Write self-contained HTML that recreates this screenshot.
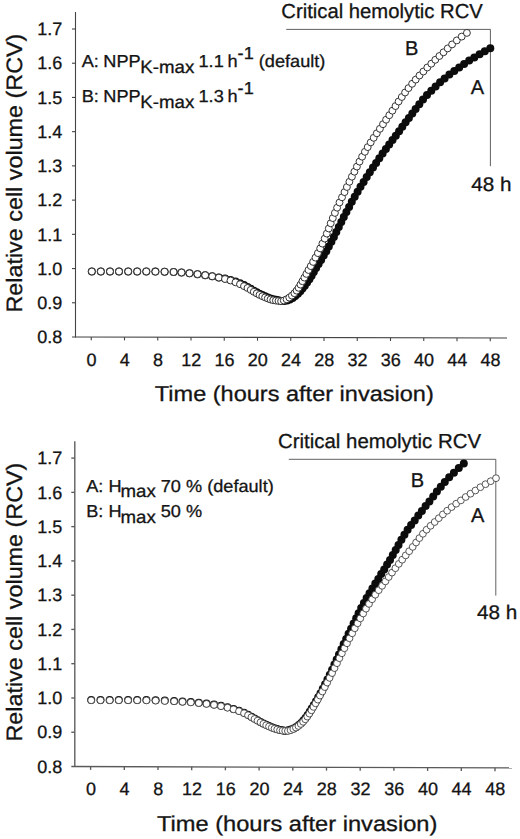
<!DOCTYPE html>
<html><head><meta charset="utf-8"><title>Relative cell volume</title>
<style>
html,body{margin:0;padding:0;background:#fff}
body{width:520px;height:839px;overflow:hidden}
svg{display:block}
text{font-family:"Liberation Sans",Arial,Helvetica,sans-serif;fill:#141414;stroke:#141414;stroke-width:0.3px;text-rendering:geometricPrecision}
.tl text{font-size:18px}
.p1 .o{fill:#fff;stroke:#2a2a2a;stroke-width:0.95px}
.p1 .f{fill:#0c0c0c}
.p2 .o{fill:#fff;stroke:#3a3a3a;stroke-width:0.85px}
.p2 .f{fill:#0c0c0c}
</style></head><body>
<svg width="520" height="839" viewBox="0 0 520 839">
<rect width="520" height="839" fill="#fff"/>
<g stroke="#444" stroke-width="1.1" fill="none"><line x1="75.50" y1="12.00" x2="75.50" y2="337.50"/><line x1="72.00" y1="337.00" x2="507.00" y2="338.00"/><line x1="72.00" y1="29.00" x2="75.50" y2="29.00"/><line x1="72.00" y1="63.22" x2="75.50" y2="63.22"/><line x1="72.00" y1="97.44" x2="75.50" y2="97.44"/><line x1="72.00" y1="131.67" x2="75.50" y2="131.67"/><line x1="72.00" y1="165.89" x2="75.50" y2="165.89"/><line x1="72.00" y1="200.11" x2="75.50" y2="200.11"/><line x1="72.00" y1="234.33" x2="75.50" y2="234.33"/><line x1="72.00" y1="268.56" x2="75.50" y2="268.56"/><line x1="72.00" y1="302.78" x2="75.50" y2="302.78"/><line x1="91.25" y1="337.04" x2="91.25" y2="340.34"/><line x1="124.50" y1="337.11" x2="124.50" y2="340.41"/><line x1="157.75" y1="337.19" x2="157.75" y2="340.49"/><line x1="191.00" y1="337.27" x2="191.00" y2="340.57"/><line x1="224.25" y1="337.34" x2="224.25" y2="340.64"/><line x1="257.50" y1="337.42" x2="257.50" y2="340.72"/><line x1="290.75" y1="337.50" x2="290.75" y2="340.80"/><line x1="324.00" y1="337.58" x2="324.00" y2="340.88"/><line x1="357.25" y1="337.65" x2="357.25" y2="340.95"/><line x1="390.50" y1="337.73" x2="390.50" y2="341.03"/><line x1="423.75" y1="337.81" x2="423.75" y2="341.11"/><line x1="457.00" y1="337.88" x2="457.00" y2="341.18"/><line x1="490.25" y1="337.96" x2="490.25" y2="341.26"/></g><g class="tl" text-anchor="end"><text x="62.2" y="35.20">1.7</text><text x="62.2" y="69.42">1.6</text><text x="62.2" y="103.64">1.5</text><text x="62.2" y="137.87">1.4</text><text x="62.2" y="172.09">1.3</text><text x="62.2" y="206.31">1.2</text><text x="62.2" y="240.53">1.1</text><text x="62.2" y="274.76">1.0</text><text x="62.2" y="308.98">0.9</text><text x="62.2" y="343.20">0.8</text></g><g class="tl" text-anchor="middle"><text x="91.55" y="365.60">0</text><text x="124.80" y="365.60">4</text><text x="158.05" y="365.60">8</text><text x="191.30" y="365.60">12</text><text x="224.55" y="365.60">16</text><text x="257.80" y="365.60">20</text><text x="291.05" y="365.60">24</text><text x="324.30" y="365.60">28</text><text x="357.55" y="365.60">32</text><text x="390.80" y="365.60">36</text><text x="424.05" y="365.60">40</text><text x="457.30" y="365.60">44</text><text x="490.55" y="365.60">48</text></g>
<g stroke="#5a5a5a" stroke-width="1.35" fill="none"><line x1="74.80" y1="441.30" x2="74.80" y2="767.00"/><line x1="71.30" y1="766.50" x2="512.00" y2="767.90"/><line x1="71.30" y1="458.10" x2="74.80" y2="458.10"/><line x1="71.30" y1="492.37" x2="74.80" y2="492.37"/><line x1="71.30" y1="526.63" x2="74.80" y2="526.63"/><line x1="71.30" y1="560.90" x2="74.80" y2="560.90"/><line x1="71.30" y1="595.17" x2="74.80" y2="595.17"/><line x1="71.30" y1="629.43" x2="74.80" y2="629.43"/><line x1="71.30" y1="663.70" x2="74.80" y2="663.70"/><line x1="71.30" y1="697.97" x2="74.80" y2="697.97"/><line x1="71.30" y1="732.23" x2="74.80" y2="732.23"/><line x1="90.60" y1="766.55" x2="90.60" y2="769.85"/><line x1="124.30" y1="766.66" x2="124.30" y2="769.96"/><line x1="158.00" y1="766.77" x2="158.00" y2="770.07"/><line x1="191.70" y1="766.87" x2="191.70" y2="770.17"/><line x1="225.40" y1="766.98" x2="225.40" y2="770.28"/><line x1="259.10" y1="767.09" x2="259.10" y2="770.39"/><line x1="292.80" y1="767.20" x2="292.80" y2="770.50"/><line x1="326.50" y1="767.31" x2="326.50" y2="770.61"/><line x1="360.20" y1="767.41" x2="360.20" y2="770.71"/><line x1="393.90" y1="767.52" x2="393.90" y2="770.82"/><line x1="427.60" y1="767.63" x2="427.60" y2="770.93"/><line x1="461.30" y1="767.74" x2="461.30" y2="771.04"/><line x1="495.00" y1="767.85" x2="495.00" y2="771.15"/></g><g class="tl" text-anchor="end"><text x="62.2" y="464.30">1.7</text><text x="62.2" y="498.57">1.6</text><text x="62.2" y="532.83">1.5</text><text x="62.2" y="567.10">1.4</text><text x="62.2" y="601.37">1.3</text><text x="62.2" y="635.63">1.2</text><text x="62.2" y="669.90">1.1</text><text x="62.2" y="704.17">1.0</text><text x="62.2" y="738.43">0.9</text><text x="62.2" y="772.70">0.8</text></g><g class="tl" text-anchor="middle"><text x="90.90" y="795.10">0</text><text x="124.60" y="795.10">4</text><text x="158.30" y="795.10">8</text><text x="192.00" y="795.10">12</text><text x="225.70" y="795.10">16</text><text x="259.40" y="795.10">20</text><text x="293.10" y="795.10">24</text><text x="326.80" y="795.10">28</text><text x="360.50" y="795.10">32</text><text x="394.20" y="795.10">36</text><text x="427.90" y="795.10">40</text><text x="461.60" y="795.10">44</text><text x="495.30" y="795.10">48</text></g>
<g stroke="#444" stroke-width="0.85" fill="none">
<polyline points="286.25,29.4 490.4,29.4 490.4,166.2"/>
<polyline points="288.75,459.3 495.8,459.3 495.8,595.6"/>
</g>
<text class="t" font-size="20.3" x="281.3" y="17.5" textLength="201.5" lengthAdjust="spacingAndGlyphs">Critical hemolytic RCV</text>
<text class="t" font-size="20.3" x="278.0" y="447.5" textLength="203" lengthAdjust="spacingAndGlyphs">Critical hemolytic RCV</text>
<text class="t" font-size="19.8" x="471.2" y="191.2" textLength="40.3" lengthAdjust="spacingAndGlyphs">48 h</text>
<text class="t" font-size="19.8" x="477.0" y="618.7" textLength="40.3" lengthAdjust="spacingAndGlyphs">48 h</text>
<text class="t" font-size="20" x="405.0" y="55.2">B</text>
<text class="t" font-size="20" x="470.8" y="93.6">A</text>
<text class="t" font-size="20" x="410.8" y="487.3">B</text>
<text class="t" font-size="20" x="470.9" y="522.2">A</text>
<text class="t" font-size="21.5" x="154.8" y="401.2" textLength="279" lengthAdjust="spacingAndGlyphs">Time (hours after invasion)</text>
<text class="t" font-size="21.5" x="156.9" y="830.7" textLength="280.5" lengthAdjust="spacingAndGlyphs">Time (hours after invasion)</text>
<text class="t" font-size="22.3" transform="translate(22.2,312.6) rotate(-90)" textLength="279" lengthAdjust="spacingAndGlyphs">Relative cell volume (RCV)</text>
<text class="t" font-size="22.3" transform="translate(21.7,741.6) rotate(-90)" textLength="279" lengthAdjust="spacingAndGlyphs">Relative cell volume (RCV)</text>
<g transform="translate(81.70,67.00) scale(1.050,1)"><text class="t" font-size="17.3" x="0" y="0">A: <tspan dx="-0.5">NPP</tspan><tspan dy="6" dx="-0.3" font-size="17.8">K-max</tspan><tspan dy="-6" dx="-0.8"> 1.1</tspan><tspan dx="-1.2"> h</tspan><tspan dy="-7.6">-1</tspan><tspan dy="7.6"> (default)</tspan></text></g>
<g transform="translate(81.70,101.80) scale(1.050,1)"><text class="t" font-size="17.3" x="0" y="0">B: <tspan dx="-0.5">NPP</tspan><tspan dy="6" dx="-0.3" font-size="17.8">K-max</tspan><tspan dy="-6" dx="-0.8"> 1.3</tspan><tspan dx="-1.2"> h</tspan><tspan dy="-7.6">-1</tspan></text></g>
<g transform="translate(86.20,491.50) scale(1.050,1)"><text class="t" font-size="17.3" x="0" y="0">A: H<tspan dy="5.8" dx="-1" font-size="17.8">max</tspan><tspan dy="-5.8"> 70 % (default)</tspan></text></g>
<g transform="translate(86.20,516.80) scale(1.050,1)"><text class="t" font-size="17.3" x="0" y="0">B: H<tspan dy="5.8" dx="-1" font-size="17.8">max</tspan><tspan dy="-5.8"> 50 %</tspan></text></g>
<g class="p1"><circle class="f" cx="91.8" cy="271.5" r="4"/><circle class="f" cx="100.8" cy="271.5" r="4"/><circle class="f" cx="110.0" cy="271.5" r="4"/><circle class="f" cx="119.0" cy="271.5" r="4"/><circle class="f" cx="128.2" cy="271.5" r="4"/><circle class="f" cx="137.2" cy="271.5" r="4"/><circle class="f" cx="146.3" cy="271.5" r="4"/><circle class="f" cx="155.4" cy="271.6" r="4"/><circle class="f" cx="164.6" cy="271.7" r="4"/><circle class="f" cx="173.6" cy="272.0" r="4"/><circle class="f" cx="181.5" cy="272.5" r="4"/><circle class="f" cx="189.5" cy="273.3" r="4"/><circle class="f" cx="197.5" cy="274.2" r="4"/><circle class="f" cx="205.2" cy="275.2" r="4"/><circle class="f" cx="212.2" cy="276.3" r="4"/><circle class="f" cx="218.8" cy="277.5" r="4"/><circle class="f" cx="225.0" cy="278.6" r="4"/><circle class="f" cx="230.5" cy="279.9" r="4"/><circle class="f" cx="235.5" cy="281.5" r="4"/><circle class="f" cx="240.0" cy="283.3" r="4"/><circle class="f" cx="244.0" cy="285.1" r="4"/><circle class="f" cx="247.5" cy="286.9" r="4"/><circle class="f" cx="250.7" cy="288.8" r="4"/><circle class="f" cx="253.8" cy="290.7" r="4"/><circle class="f" cx="256.7" cy="292.3" r="4"/><circle class="f" cx="259.5" cy="293.8" r="4"/><circle class="f" cx="262.3" cy="295.1" r="4"/><circle class="f" cx="265.1" cy="296.3" r="4"/><circle class="f" cx="267.8" cy="297.4" r="4"/><circle class="f" cx="270.5" cy="298.4" r="4"/><circle class="f" cx="273.2" cy="299.3" r="4"/><circle class="f" cx="275.9" cy="299.8" r="4"/><circle class="f" cx="278.5" cy="300.3" r="4"/><circle class="f" cx="281.1" cy="301.1" r="4"/><circle class="f" cx="284.1" cy="301.1" r="4"/><circle class="f" cx="287.1" cy="300.5" r="4"/><circle class="f" cx="289.9" cy="299.5" r="4"/><circle class="f" cx="292.7" cy="298.0" r="4"/><circle class="f" cx="295.3" cy="296.0" r="4"/><circle class="f" cx="297.9" cy="293.7" r="4"/><circle class="f" cx="300.3" cy="291.2" r="4"/><circle class="f" cx="302.5" cy="288.6" r="4"/><circle class="f" cx="304.8" cy="285.8" r="4"/><circle class="f" cx="307.1" cy="282.6" r="4"/><circle class="f" cx="309.4" cy="279.2" r="4"/><circle class="f" cx="311.6" cy="275.7" r="4"/><circle class="f" cx="313.8" cy="272.0" r="4"/><circle class="f" cx="316.1" cy="268.1" r="4"/><circle class="f" cx="318.6" cy="264.1" r="4"/><circle class="f" cx="321.1" cy="259.9" r="4"/><circle class="f" cx="323.7" cy="255.6" r="4"/><circle class="f" cx="326.3" cy="251.2" r="4"/><circle class="f" cx="328.8" cy="246.5" r="4"/><circle class="f" cx="331.4" cy="241.7" r="4"/><circle class="f" cx="333.9" cy="236.9" r="4"/><circle class="f" cx="336.3" cy="232.0" r="4"/><circle class="f" cx="338.8" cy="227.0" r="4"/><circle class="f" cx="341.3" cy="222.0" r="4"/><circle class="f" cx="343.8" cy="217.0" r="4"/><circle class="f" cx="346.4" cy="211.9" r="4"/><circle class="f" cx="349.1" cy="206.9" r="4"/><circle class="f" cx="351.8" cy="201.8" r="4"/><circle class="f" cx="354.7" cy="196.8" r="4"/><circle class="f" cx="357.6" cy="191.7" r="4"/><circle class="f" cx="360.5" cy="186.8" r="4"/><circle class="f" cx="363.6" cy="181.9" r="4"/><circle class="f" cx="366.7" cy="177.1" r="4"/><circle class="f" cx="369.8" cy="172.3" r="4"/><circle class="f" cx="373.0" cy="167.6" r="4"/><circle class="f" cx="376.1" cy="162.9" r="4"/><circle class="f" cx="379.3" cy="158.2" r="4"/><circle class="f" cx="382.6" cy="153.6" r="4"/><circle class="f" cx="385.9" cy="149.1" r="4"/><circle class="f" cx="389.2" cy="144.6" r="4"/><circle class="f" cx="392.5" cy="140.1" r="4"/><circle class="f" cx="395.8" cy="135.7" r="4"/><circle class="f" cx="399.1" cy="131.2" r="4"/><circle class="f" cx="402.3" cy="126.8" r="4"/><circle class="f" cx="405.6" cy="122.3" r="4"/><circle class="f" cx="408.9" cy="117.9" r="4"/><circle class="f" cx="412.3" cy="113.5" r="4"/><circle class="f" cx="415.6" cy="109.0" r="4"/><circle class="f" cx="419.3" cy="104.3" r="4"/><circle class="f" cx="423.0" cy="99.5" r="4"/><circle class="f" cx="427.0" cy="95.0" r="4"/><circle class="f" cx="431.3" cy="90.7" r="4"/><circle class="f" cx="435.6" cy="86.5" r="4"/><circle class="f" cx="440.1" cy="82.3" r="4"/><circle class="f" cx="444.6" cy="78.4" r="4"/><circle class="f" cx="449.4" cy="74.6" r="4"/><circle class="f" cx="454.3" cy="71.0" r="4"/><circle class="f" cx="459.2" cy="67.4" r="4"/><circle class="f" cx="464.1" cy="63.9" r="4"/><circle class="f" cx="469.2" cy="60.6" r="4"/><circle class="f" cx="474.3" cy="57.4" r="4"/><circle class="f" cx="479.6" cy="54.3" r="4"/><circle class="f" cx="484.8" cy="51.3" r="4"/><circle class="f" cx="490.3" cy="48.3" r="4"/><circle class="o" cx="91.8" cy="271.5" r="3.45"/><circle class="o" cx="100.8" cy="271.5" r="3.45"/><circle class="o" cx="110.0" cy="271.5" r="3.45"/><circle class="o" cx="119.0" cy="271.5" r="3.45"/><circle class="o" cx="128.2" cy="271.5" r="3.45"/><circle class="o" cx="137.2" cy="271.5" r="3.45"/><circle class="o" cx="146.3" cy="271.5" r="3.45"/><circle class="o" cx="155.4" cy="271.6" r="3.45"/><circle class="o" cx="164.6" cy="271.7" r="3.45"/><circle class="o" cx="173.6" cy="272.0" r="3.45"/><circle class="o" cx="181.5" cy="272.5" r="3.45"/><circle class="o" cx="189.5" cy="273.3" r="3.45"/><circle class="o" cx="197.5" cy="274.2" r="3.45"/><circle class="o" cx="205.2" cy="275.2" r="3.45"/><circle class="o" cx="212.2" cy="276.3" r="3.45"/><circle class="o" cx="218.8" cy="277.6" r="3.45"/><circle class="o" cx="225.0" cy="279.0" r="3.45"/><circle class="o" cx="230.5" cy="280.5" r="3.45"/><circle class="o" cx="235.5" cy="282.3" r="3.45"/><circle class="o" cx="240.0" cy="284.2" r="3.45"/><circle class="o" cx="244.0" cy="286.1" r="3.45"/><circle class="o" cx="247.5" cy="288.0" r="3.45"/><circle class="o" cx="250.7" cy="289.9" r="3.45"/><circle class="o" cx="253.8" cy="291.8" r="3.45"/><circle class="o" cx="256.7" cy="293.4" r="3.45"/><circle class="o" cx="259.5" cy="294.9" r="3.45"/><circle class="o" cx="262.3" cy="296.2" r="3.45"/><circle class="o" cx="265.1" cy="297.4" r="3.45"/><circle class="o" cx="267.8" cy="298.5" r="3.45"/><circle class="o" cx="270.5" cy="299.5" r="3.45"/><circle class="o" cx="273.2" cy="300.2" r="3.45"/><circle class="o" cx="275.9" cy="300.6" r="3.45"/><circle class="o" cx="278.5" cy="300.9" r="3.45"/><circle class="o" cx="281.1" cy="301.2" r="3.45"/><circle class="o" cx="283.8" cy="300.5" r="3.45"/><circle class="o" cx="286.6" cy="299.3" r="3.45"/><circle class="o" cx="289.3" cy="297.6" r="3.45"/><circle class="o" cx="291.9" cy="295.6" r="3.45"/><circle class="o" cx="294.4" cy="293.2" r="3.45"/><circle class="o" cx="296.6" cy="290.6" r="3.45"/><circle class="o" cx="298.6" cy="287.8" r="3.45"/><circle class="o" cx="300.5" cy="284.6" r="3.45"/><circle class="o" cx="302.4" cy="281.2" r="3.45"/><circle class="o" cx="304.4" cy="277.6" r="3.45"/><circle class="o" cx="306.4" cy="273.9" r="3.45"/><circle class="o" cx="308.5" cy="270.0" r="3.45"/><circle class="o" cx="310.8" cy="266.1" r="3.45"/><circle class="o" cx="313.1" cy="261.9" r="3.45"/><circle class="o" cx="315.5" cy="257.6" r="3.45"/><circle class="o" cx="317.9" cy="253.1" r="3.45"/><circle class="o" cx="320.2" cy="248.4" r="3.45"/><circle class="o" cx="322.4" cy="243.6" r="3.45"/><circle class="o" cx="324.7" cy="238.6" r="3.45"/><circle class="o" cx="326.8" cy="233.6" r="3.45"/><circle class="o" cx="328.8" cy="228.5" r="3.45"/><circle class="o" cx="330.7" cy="223.3" r="3.45"/><circle class="o" cx="332.8" cy="218.1" r="3.45"/><circle class="o" cx="334.9" cy="212.9" r="3.45"/><circle class="o" cx="337.1" cy="207.7" r="3.45"/><circle class="o" cx="339.5" cy="202.5" r="3.45"/><circle class="o" cx="342.0" cy="197.3" r="3.45"/><circle class="o" cx="344.5" cy="192.1" r="3.45"/><circle class="o" cx="346.9" cy="187.0" r="3.45"/><circle class="o" cx="349.4" cy="181.8" r="3.45"/><circle class="o" cx="351.9" cy="176.7" r="3.45"/><circle class="o" cx="354.4" cy="171.7" r="3.45"/><circle class="o" cx="356.9" cy="166.6" r="3.45"/><circle class="o" cx="359.5" cy="161.6" r="3.45"/><circle class="o" cx="362.1" cy="156.7" r="3.45"/><circle class="o" cx="364.9" cy="151.8" r="3.45"/><circle class="o" cx="367.7" cy="147.1" r="3.45"/><circle class="o" cx="370.7" cy="142.4" r="3.45"/><circle class="o" cx="373.7" cy="137.8" r="3.45"/><circle class="o" cx="376.8" cy="133.3" r="3.45"/><circle class="o" cx="379.9" cy="128.8" r="3.45"/><circle class="o" cx="383.0" cy="124.2" r="3.45"/><circle class="o" cx="386.1" cy="119.7" r="3.45"/><circle class="o" cx="389.3" cy="115.2" r="3.45"/><circle class="o" cx="392.4" cy="110.7" r="3.45"/><circle class="o" cx="395.5" cy="106.1" r="3.45"/><circle class="o" cx="398.6" cy="101.5" r="3.45"/><circle class="o" cx="401.8" cy="97.0" r="3.45"/><circle class="o" cx="405.1" cy="92.5" r="3.45"/><circle class="o" cx="408.5" cy="88.1" r="3.45"/><circle class="o" cx="412.1" cy="83.8" r="3.45"/><circle class="o" cx="415.7" cy="79.6" r="3.45"/><circle class="o" cx="419.5" cy="75.5" r="3.45"/><circle class="o" cx="423.4" cy="71.5" r="3.45"/><circle class="o" cx="427.3" cy="67.5" r="3.45"/><circle class="o" cx="431.3" cy="63.7" r="3.45"/><circle class="o" cx="435.3" cy="59.8" r="3.45"/><circle class="o" cx="439.4" cy="56.0" r="3.45"/><circle class="o" cx="443.5" cy="52.3" r="3.45"/><circle class="o" cx="447.7" cy="48.4" r="3.45"/><circle class="o" cx="452.1" cy="44.4" r="3.45"/><circle class="o" cx="456.8" cy="40.4" r="3.45"/><circle class="o" cx="461.7" cy="36.6" r="3.45"/><circle class="o" cx="466.9" cy="32.9" r="3.45"/></g>
<g class="p2"><circle class="f" cx="91.2" cy="699.9" r="4"/><circle class="f" cx="100.5" cy="699.9" r="4"/><circle class="f" cx="109.7" cy="699.9" r="4"/><circle class="f" cx="118.8" cy="699.9" r="4"/><circle class="f" cx="128.1" cy="699.9" r="4"/><circle class="f" cx="137.2" cy="699.9" r="4"/><circle class="f" cx="146.4" cy="700.0" r="4"/><circle class="f" cx="155.6" cy="700.2" r="4"/><circle class="f" cx="164.8" cy="700.6" r="4"/><circle class="f" cx="174.1" cy="700.9" r="4"/><circle class="f" cx="182.5" cy="701.4" r="4"/><circle class="f" cx="190.8" cy="702.0" r="4"/><circle class="f" cx="198.8" cy="702.7" r="4"/><circle class="f" cx="206.5" cy="703.5" r="4"/><circle class="f" cx="214.0" cy="704.5" r="4"/><circle class="f" cx="221.0" cy="705.8" r="4"/><circle class="f" cx="227.5" cy="707.3" r="4"/><circle class="f" cx="233.5" cy="708.9" r="4"/><circle class="f" cx="239.0" cy="710.8" r="4"/><circle class="f" cx="244.0" cy="712.8" r="4"/><circle class="f" cx="248.0" cy="714.8" r="4"/><circle class="f" cx="251.4" cy="716.8" r="4"/><circle class="f" cx="254.5" cy="718.6" r="4"/><circle class="f" cx="257.5" cy="720.3" r="4"/><circle class="f" cx="260.5" cy="721.9" r="4"/><circle class="f" cx="263.4" cy="723.4" r="4"/><circle class="f" cx="266.2" cy="724.8" r="4"/><circle class="f" cx="269.0" cy="726.1" r="4"/><circle class="f" cx="271.8" cy="727.3" r="4"/><circle class="f" cx="274.5" cy="728.3" r="4"/><circle class="f" cx="277.2" cy="729.1" r="4"/><circle class="f" cx="280.0" cy="729.9" r="4"/><circle class="f" cx="282.6" cy="730.3" r="4"/><circle class="f" cx="285.2" cy="730.9" r="4"/><circle class="f" cx="288.1" cy="730.3" r="4"/><circle class="f" cx="290.9" cy="729.5" r="4"/><circle class="f" cx="293.6" cy="728.4" r="4"/><circle class="f" cx="296.2" cy="726.9" r="4"/><circle class="f" cx="298.8" cy="725.0" r="4"/><circle class="f" cx="301.2" cy="722.9" r="4"/><circle class="f" cx="303.4" cy="720.6" r="4"/><circle class="f" cx="305.5" cy="717.9" r="4"/><circle class="f" cx="307.6" cy="715.0" r="4"/><circle class="f" cx="309.7" cy="711.8" r="4"/><circle class="f" cx="311.7" cy="708.4" r="4"/><circle class="f" cx="313.8" cy="704.9" r="4"/><circle class="f" cx="316.0" cy="701.2" r="4"/><circle class="f" cx="318.2" cy="697.3" r="4"/><circle class="f" cx="320.5" cy="693.2" r="4"/><circle class="f" cx="322.8" cy="688.8" r="4"/><circle class="f" cx="325.1" cy="684.3" r="4"/><circle class="f" cx="327.4" cy="679.6" r="4"/><circle class="f" cx="329.8" cy="674.7" r="4"/><circle class="f" cx="332.1" cy="669.7" r="4"/><circle class="f" cx="334.4" cy="664.6" r="4"/><circle class="f" cx="336.7" cy="659.5" r="4"/><circle class="f" cx="339.0" cy="654.4" r="4"/><circle class="f" cx="341.4" cy="649.2" r="4"/><circle class="f" cx="343.7" cy="644.1" r="4"/><circle class="f" cx="346.2" cy="639.0" r="4"/><circle class="f" cx="348.6" cy="633.8" r="4"/><circle class="f" cx="351.1" cy="628.7" r="4"/><circle class="f" cx="353.6" cy="623.5" r="4"/><circle class="f" cx="356.2" cy="618.3" r="4"/><circle class="f" cx="358.6" cy="613.2" r="4"/><circle class="f" cx="361.2" cy="608.1" r="4"/><circle class="f" cx="363.9" cy="603.1" r="4"/><circle class="f" cx="366.6" cy="598.1" r="4"/><circle class="f" cx="369.5" cy="593.3" r="4"/><circle class="f" cx="372.4" cy="588.4" r="4"/><circle class="f" cx="375.3" cy="583.6" r="4"/><circle class="f" cx="378.3" cy="578.9" r="4"/><circle class="f" cx="381.2" cy="574.1" r="4"/><circle class="f" cx="384.2" cy="569.4" r="4"/><circle class="f" cx="387.1" cy="564.6" r="4"/><circle class="f" cx="390.0" cy="559.9" r="4"/><circle class="f" cx="392.8" cy="555.1" r="4"/><circle class="f" cx="395.7" cy="550.0" r="4"/><circle class="f" cx="398.5" cy="544.9" r="4"/><circle class="f" cx="401.4" cy="539.8" r="4"/><circle class="f" cx="404.4" cy="534.7" r="4"/><circle class="f" cx="407.6" cy="529.8" r="4"/><circle class="f" cx="411.1" cy="525.1" r="4"/><circle class="f" cx="414.7" cy="520.4" r="4"/><circle class="f" cx="418.3" cy="515.6" r="4"/><circle class="f" cx="421.9" cy="510.9" r="4"/><circle class="f" cx="425.6" cy="506.1" r="4"/><circle class="f" cx="429.4" cy="501.4" r="4"/><circle class="f" cx="433.2" cy="496.5" r="4"/><circle class="f" cx="436.9" cy="491.6" r="4"/><circle class="f" cx="440.8" cy="486.7" r="4"/><circle class="f" cx="444.8" cy="481.9" r="4"/><circle class="f" cx="449.2" cy="477.2" r="4"/><circle class="f" cx="453.9" cy="472.7" r="4"/><circle class="f" cx="458.8" cy="468.1" r="4"/><circle class="f" cx="463.8" cy="463.5" r="4"/><circle class="o" cx="91.2" cy="700.3" r="3.4"/><circle class="o" cx="100.5" cy="700.3" r="3.4"/><circle class="o" cx="109.7" cy="700.3" r="3.4"/><circle class="o" cx="118.8" cy="700.3" r="3.4"/><circle class="o" cx="128.1" cy="700.3" r="3.4"/><circle class="o" cx="137.2" cy="700.3" r="3.4"/><circle class="o" cx="146.4" cy="700.4" r="3.4"/><circle class="o" cx="155.6" cy="700.6" r="3.4"/><circle class="o" cx="164.8" cy="701.0" r="3.4"/><circle class="o" cx="174.1" cy="701.3" r="3.4"/><circle class="o" cx="182.5" cy="701.8" r="3.4"/><circle class="o" cx="190.8" cy="702.4" r="3.4"/><circle class="o" cx="198.8" cy="703.1" r="3.4"/><circle class="o" cx="206.5" cy="703.9" r="3.4"/><circle class="o" cx="214.0" cy="704.9" r="3.4"/><circle class="o" cx="221.0" cy="706.2" r="3.4"/><circle class="o" cx="227.5" cy="707.7" r="3.4"/><circle class="o" cx="233.5" cy="709.3" r="3.4"/><circle class="o" cx="239.0" cy="711.2" r="3.4"/><circle class="o" cx="244.0" cy="713.2" r="3.4"/><circle class="o" cx="248.0" cy="715.2" r="3.4"/><circle class="o" cx="251.4" cy="717.2" r="3.4"/><circle class="o" cx="254.5" cy="719.0" r="3.4"/><circle class="o" cx="257.5" cy="720.7" r="3.4"/><circle class="o" cx="260.5" cy="722.3" r="3.4"/><circle class="o" cx="263.4" cy="723.8" r="3.4"/><circle class="o" cx="266.2" cy="725.2" r="3.4"/><circle class="o" cx="269.0" cy="726.5" r="3.4"/><circle class="o" cx="271.8" cy="727.7" r="3.4"/><circle class="o" cx="274.5" cy="728.7" r="3.4"/><circle class="o" cx="277.2" cy="729.5" r="3.4"/><circle class="o" cx="280.0" cy="730.3" r="3.4"/><circle class="o" cx="282.6" cy="730.7" r="3.4"/><circle class="o" cx="285.2" cy="730.9" r="3.4"/><circle class="o" cx="287.9" cy="731.0" r="3.4"/><circle class="o" cx="290.6" cy="730.2" r="3.4"/><circle class="o" cx="293.3" cy="729.0" r="3.4"/><circle class="o" cx="295.9" cy="727.6" r="3.4"/><circle class="o" cx="298.4" cy="726.0" r="3.4"/><circle class="o" cx="300.8" cy="724.0" r="3.4"/><circle class="o" cx="303.1" cy="721.8" r="3.4"/><circle class="o" cx="305.3" cy="719.3" r="3.4"/><circle class="o" cx="307.3" cy="716.6" r="3.4"/><circle class="o" cx="309.4" cy="713.6" r="3.4"/><circle class="o" cx="311.5" cy="710.3" r="3.4"/><circle class="o" cx="313.5" cy="706.9" r="3.4"/><circle class="o" cx="315.6" cy="703.3" r="3.4"/><circle class="o" cx="317.8" cy="699.6" r="3.4"/><circle class="o" cx="320.0" cy="695.6" r="3.4"/><circle class="o" cx="322.4" cy="691.5" r="3.4"/><circle class="o" cx="324.8" cy="687.1" r="3.4"/><circle class="o" cx="327.2" cy="682.6" r="3.4"/><circle class="o" cx="329.6" cy="677.9" r="3.4"/><circle class="o" cx="332.1" cy="673.1" r="3.4"/><circle class="o" cx="334.5" cy="668.1" r="3.4"/><circle class="o" cx="337.0" cy="663.2" r="3.4"/><circle class="o" cx="339.4" cy="658.2" r="3.4"/><circle class="o" cx="341.9" cy="653.3" r="3.4"/><circle class="o" cx="344.4" cy="648.3" r="3.4"/><circle class="o" cx="347.0" cy="643.3" r="3.4"/><circle class="o" cx="349.5" cy="638.3" r="3.4"/><circle class="o" cx="352.2" cy="633.3" r="3.4"/><circle class="o" cx="354.8" cy="628.3" r="3.4"/><circle class="o" cx="357.6" cy="623.3" r="3.4"/><circle class="o" cx="360.3" cy="618.4" r="3.4"/><circle class="o" cx="363.2" cy="613.5" r="3.4"/><circle class="o" cx="366.0" cy="608.7" r="3.4"/><circle class="o" cx="369.0" cy="603.9" r="3.4"/><circle class="o" cx="372.1" cy="599.3" r="3.4"/><circle class="o" cx="375.3" cy="594.7" r="3.4"/><circle class="o" cx="378.7" cy="590.2" r="3.4"/><circle class="o" cx="382.1" cy="585.8" r="3.4"/><circle class="o" cx="385.4" cy="581.4" r="3.4"/><circle class="o" cx="388.7" cy="577.0" r="3.4"/><circle class="o" cx="392.0" cy="572.6" r="3.4"/><circle class="o" cx="395.4" cy="568.2" r="3.4"/><circle class="o" cx="398.8" cy="563.9" r="3.4"/><circle class="o" cx="402.2" cy="559.7" r="3.4"/><circle class="o" cx="405.7" cy="555.4" r="3.4"/><circle class="o" cx="409.2" cy="551.2" r="3.4"/><circle class="o" cx="412.7" cy="546.9" r="3.4"/><circle class="o" cx="416.1" cy="542.5" r="3.4"/><circle class="o" cx="419.4" cy="538.1" r="3.4"/><circle class="o" cx="422.9" cy="533.8" r="3.4"/><circle class="o" cx="426.6" cy="529.7" r="3.4"/><circle class="o" cx="430.6" cy="525.8" r="3.4"/><circle class="o" cx="434.7" cy="522.0" r="3.4"/><circle class="o" cx="438.8" cy="518.2" r="3.4"/><circle class="o" cx="442.9" cy="514.4" r="3.4"/><circle class="o" cx="447.2" cy="510.7" r="3.4"/><circle class="o" cx="451.6" cy="507.1" r="3.4"/><circle class="o" cx="456.2" cy="503.7" r="3.4"/><circle class="o" cx="460.9" cy="500.4" r="3.4"/><circle class="o" cx="465.7" cy="497.0" r="3.4"/><circle class="o" cx="470.5" cy="493.7" r="3.4"/><circle class="o" cx="475.4" cy="490.5" r="3.4"/><circle class="o" cx="480.4" cy="487.2" r="3.4"/><circle class="o" cx="485.5" cy="484.2" r="3.4"/><circle class="o" cx="490.7" cy="481.2" r="3.4"/><circle class="o" cx="496.0" cy="478.2" r="3.4"/></g>
</svg>
</body></html>
